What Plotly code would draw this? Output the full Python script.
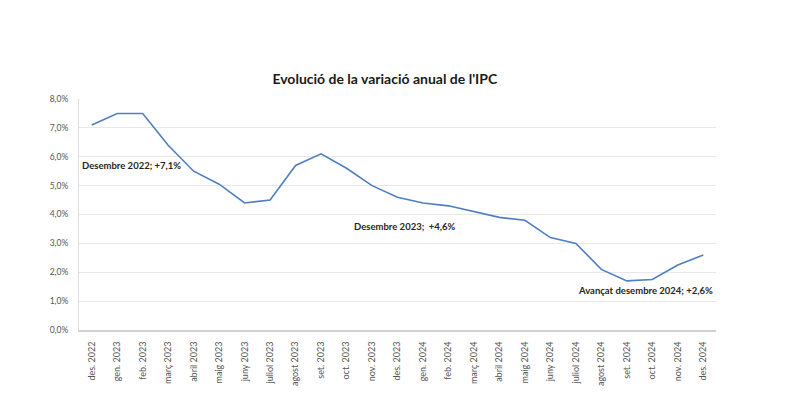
import plotly.graph_objects as go

categories = ["des. 2022", "gen. 2023", "feb. 2023", "març 2023", "abril 2023", "maig 2023",
              "juny 2023", "juliol 2023", "agost 2023", "set. 2023", "oct. 2023", "nov. 2023",
              "des. 2023", "gen. 2024", "feb. 2024", "març 2024", "abril 2024", "maig 2024",
              "juny 2024", "juliol 2024", "agost 2024", "set. 2024", "oct. 2024", "nov. 2024",
              "des. 2024"]
ipc = [7.1, 7.5, 7.5, 6.4, 5.5, 5.05, 4.4, 4.5, 5.7, 6.1, 5.6, 5.0,
       4.6, 4.4, 4.3, 4.1, 3.9, 3.8, 3.2, 3.0, 2.1, 1.7, 1.75, 2.25, 2.6]
y_ticks = [0, 1, 2, 3, 4, 5, 6, 7, 8]
y_labels = [f"{v:.1f}".replace(".", ",") + "%" for v in y_ticks]

FONT = "Lato"

fig = go.Figure()
fig.add_trace(go.Scatter(x=categories, y=ipc, mode="lines",
                         line=dict(color="#4F7FC0", width=1.6), hoverinfo="skip"))

notes = [
    ("Desembre 2022; +7,1%", 0.002, 0.71, "left"),
    ("Desembre 2023;  +4,6%", 0.4286, 0.446, "left"),
    ("Avançat desembre 2024; +2,6%", 0.998, 0.173, "right"),
]
for txt, xp, yp, anc in notes:
    fig.add_annotation(text="<b>" + txt + "</b>", xref="paper", yref="paper", x=xp, y=yp,
                       xanchor=anc, yanchor="middle", showarrow=False,
                       font=dict(family=FONT, size=9.5, color="#262626"))

fig.update_layout(
    width=800, height=420,
    margin=dict(l=79, r=84, t=99, b=90),
    paper_bgcolor="white", plot_bgcolor="white",
    showlegend=False,
    title=dict(text="<b>Evolució de la variació anual de l'IPC</b>", x=0.481, xanchor="center",
               y=1 - 79 / 420, yanchor="middle", yref="container",
               font=dict(family=FONT, size=14, color="#1a1a1a")),
    xaxis=dict(type="category", range=[-0.5, len(categories) - 0.5], tickangle=-90,
               tickfont=dict(family=FONT, size=9, color="#555555"),
               showgrid=False, showline=True, linecolor="#D0D0D0", linewidth=2,
               ticks="", ticklen=0, ticklabelstandoff=6),
    yaxis=dict(range=[0, 8], tickvals=y_ticks, ticktext=y_labels,
               tickfont=dict(family=FONT, size=8.5, color="#555555"),
               showgrid=True, gridcolor="#E8E8E8", gridwidth=1,
               showline=True, linecolor="#E0E0E0", linewidth=1, zeroline=False,
               ticks="", ticklabelstandoff=8),
)

fig.write_html("out.html")
